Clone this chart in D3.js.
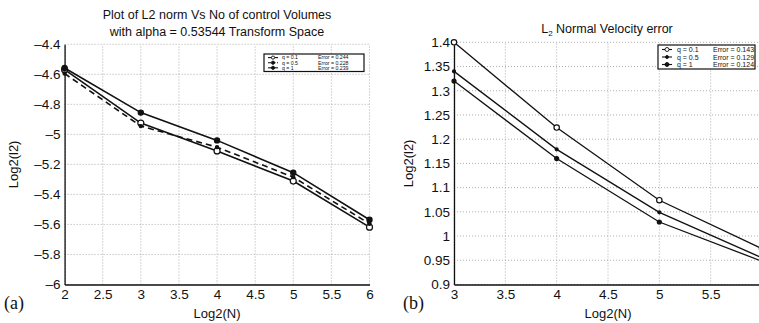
<!DOCTYPE html>
<html><head><meta charset="utf-8">
<script src="https://cdn.jsdelivr.net/npm/d3@7"></script>
<style>
body{margin:0;background:#fff;}
svg{display:block;}
text{font-family:"Liberation Sans",Arial,Helvetica,sans-serif;fill:#111;}
</style></head><body>
<svg id="c" width="759" height="323"></svg>
<script>
// ---- data (panel a) ----
const xA = [2, 3, 4, 5, 6];
const a_q01 = [-4.569, -4.925, -5.110, -5.311, -5.618];
const a_q05 = [-4.595, -4.945, -5.085, -5.285, -5.595];
const a_q1  = [-4.558, -4.855, -5.040, -5.255, -5.569];
const a_xTicks = [2, 2.5, 3, 3.5, 4, 4.5, 5, 5.5, 6];
const a_yTicks = [-6, -5.8, -5.6, -5.4, -5.2, -5, -4.8, -4.6, -4.4];
const a_legend = ["q = 0.1", "q = 0.5", "q =  1"];
const a_errors = ["Error = 0.244", "Error = 0.228", "Error = 0.239"];
// ---- data (panel b) ----
const xB = [3, 4, 5, 6];
const b_q01 = [1.400, 1.224, 1.074, 0.974];
const b_q05 = [1.340, 1.179, 1.049, 0.955];
const b_q1  = [1.320, 1.160, 1.029, 0.948];
const b_xTicks = [3, 3.5, 4, 4.5, 5, 5.5, 6];
const b_yTicks = [0.9, 0.95, 1, 1.05, 1.1, 1.15, 1.2, 1.25, 1.3, 1.35, 1.4];
const b_legend = ["q = 0.1", "q = 0.5", "q =  1"];
const b_errors = ["Error = 0.143", "Error = 0.129", "Error = 0.124"];

const svg = d3.select("#c");
const fmt = v => String(v).replace("-", "\u2013");

function panel(cfg){
  const g = svg.append("g");
  const x = d3.scaleLinear().domain(cfg.xdom).range(cfg.xr);
  const y = d3.scaleLinear().domain(cfg.ydom).range(cfg.yr);
  // grid
  g.selectAll(".vg").data(cfg.xTicks).join("line")
    .attr("x1", d=>x(d)).attr("x2", d=>x(d)).attr("y1", cfg.yr[0]).attr("y2", cfg.yr[1])
    .attr("stroke", "#999").attr("stroke-width", 0.8).attr("stroke-dasharray", "1,2");
  g.selectAll(".hg").data(cfg.yTicks).join("line")
    .attr("x1", cfg.xr[0]).attr("x2", cfg.xr[1]).attr("y1", d=>y(d)).attr("y2", d=>y(d))
    .attr("stroke", "#999").attr("stroke-width", 0.8).attr("stroke-dasharray", "1,2");
  // axes
  const xa = g.append("g").attr("transform", `translate(0,${cfg.yr[0]})`)
    .call(d3.axisBottom(x).tickValues(cfg.xTicks).tickSize(0).tickPadding(5).tickFormat(fmt));
  const ya = g.append("g").attr("transform", `translate(${cfg.xr[0]},0)`)
    .call(d3.axisLeft(y).tickValues(cfg.yTicks).tickSize(0).tickPadding(4).tickFormat(fmt));
  [xa, ya].forEach(a => {
    a.select(".domain").attr("stroke", "#111").attr("stroke-width", 1.3);
    a.selectAll("text").attr("font-size", 13.5).attr("fill", "#111")
      .style("font-family", '"Liberation Sans",Arial,sans-serif');
  });
  // lines
  const line = d3.line().x((d,i)=>x(cfg.xs[i])).y(d=>y(d));
  cfg.series.forEach(s => {
    g.append("path").datum(s.v).attr("d", line).attr("fill", "none")
      .attr("stroke", "#111").attr("stroke-width", cfg.lw)
      .attr("stroke-dasharray", s.dash || null);
    g.selectAll(null).data(s.v).join("circle")
      .attr("cx", (d,i)=>x(cfg.xs[i])).attr("cy", d=>y(d)).attr("r", s.r)
      .attr("fill", s.fill).attr("stroke", "#111").attr("stroke-width", 1.2);
  });
  // labels
  g.append("text").attr("x", (cfg.xr[0]+cfg.xr[1])/2).attr("y", 318)
    .attr("text-anchor", "middle").attr("font-size", 13).text("Log2(N)");
  g.append("text").attr("transform", `translate(${cfg.ylx},${(cfg.yr[0]+cfg.yr[1])/2}) rotate(-90)`)
    .attr("text-anchor", "middle").attr("font-size", 13).text("Log2(l2)");
  g.append("text").attr("x", cfg.tagx).attr("y", 309)
    .style("font-family", '"Liberation Serif","Times New Roman",serif')
    .attr("font-size", 18).text(cfg.tag);
  // legend
  const L = cfg.leg;
  g.append("rect").attr("x", L.x).attr("y", L.y).attr("width", L.w).attr("height", L.h)
    .attr("fill", "#fff").attr("stroke", "#111").attr("stroke-width", 1.2);
  cfg.series.forEach((s,i) => {
    const yy = L.y + L.row0 + i*L.dy;
    g.append("line").attr("x1", L.x+4).attr("x2", L.x+14).attr("y1", yy).attr("y2", yy)
      .attr("stroke", "#111").attr("stroke-width", 1.1).attr("stroke-dasharray", s.dash ? "3,1.5" : null);
    g.append("circle").attr("cx", L.x+9).attr("cy", yy).attr("r", Math.min(s.r, L.mr))
      .attr("fill", s.fill).attr("stroke", "#111").attr("stroke-width", 0.9);
    g.append("text").attr("x", L.x+L.tx).attr("y", yy+L.fs*0.36).attr("font-size", L.fs).text(cfg.legend[i]);
    g.append("text").attr("x", L.x+L.ex).attr("y", yy+L.fs*0.36).attr("font-size", L.fs).text(cfg.errors[i]);
  });
  return {x, y, g};
}

const A = panel({
  xdom:[2,6], xr:[64.6,369.5], ydom:[-6,-4.4], yr:[284.5,44.3],
  xTicks:a_xTicks, yTicks:a_yTicks, xs:xA, lw:1.6,
  series:[
    {v:a_q01, r:3, fill:"#fff"},
    {v:a_q05, r:1.6, fill:"#111", dash:"6,4"},
    {v:a_q1, r:2.6, fill:"#111"}
  ],
  legend:a_legend, errors:a_errors, ylx:18, tag:"(a)", tagx:4,
  leg:{x:264, y:54, w:100, h:17.5, row0:3.6, dy:5.1, tx:18, ex:54, fs:5.2, mr:1.6}
});
const B = panel({
  xdom:[3,6], xr:[454,762], ydom:[0.9,1.4], yr:[284.5,42.3],
  xTicks:b_xTicks, yTicks:b_yTicks, xs:xB, lw:1.3,
  series:[
    {v:b_q01, r:2.7, fill:"#fff"},
    {v:b_q05, r:1.5, fill:"#111"},
    {v:b_q1, r:2, fill:"#111"}
  ],
  legend:b_legend, errors:b_errors, ylx:413, tag:"(b)", tagx:403,
  leg:{x:658, y:45, w:97, h:24, row0:4.5, dy:7.5, tx:19, ex:55, fs:7, mr:2}
});

// titles
svg.append("text").attr("x", 217).attr("y", 19).attr("text-anchor","middle").attr("font-size", 12.5)
  .text("Plot of L2 norm Vs No of control Volumes");
svg.append("text").attr("x", 217).attr("y", 36).attr("text-anchor","middle").attr("font-size", 12.5)
  .text("with alpha = 0.53544 Transform Space");
const t2 = svg.append("text").attr("x", 607).attr("y", 33).attr("text-anchor","middle").attr("font-size", 12.5);
t2.append("tspan").text("L");
t2.append("tspan").attr("font-size", 8).attr("dy", 3).text("2");
t2.append("tspan").attr("dy", -3).text(" Normal Velocity error");
</script></body></html>
